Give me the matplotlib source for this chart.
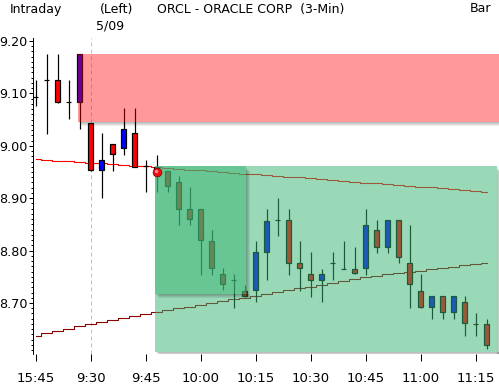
import matplotlib
matplotlib.use("Agg")
import matplotlib.pyplot as plt
from matplotlib.patches import Rectangle
from matplotlib.ticker import MultipleLocator, FormatStrFormatter

# bar index : 0 = 9:30 (5/09), negatives = last bars of the previous session
bars = list(range(-5, 37))
opens = [9.094, 9.126, 9.126, 9.083, 9.084,
         9.043, 8.954, 9.003, 8.995, 9.024, 8.962, 8.960, 8.951, 8.930, 8.879,
         8.879, 8.818, 8.755, 8.744, 8.723, 8.725, 8.798, 8.858, 8.858, 8.776,
         8.755, 8.744, 8.776, 8.764, 8.764, 8.766, 8.839, 8.806, 8.858, 8.776,
         8.722, 8.693, 8.713, 8.682, 8.701, 8.659, 8.659]
highs = [9.126, 9.175, 9.175, 9.126, 9.175,
         9.043, 9.024, 9.003, 9.073, 9.073, 8.973, 8.982, 8.951, 8.942, 8.921,
         8.879, 8.839, 8.766, 8.755, 8.734, 8.818, 8.879, 8.900, 8.879, 8.818,
         8.797, 8.764, 8.797, 8.818, 8.807, 8.879, 8.858, 8.858, 8.858, 8.849,
         8.755, 8.713, 8.713, 8.713, 8.713, 8.681, 8.669]
lows = [9.075, 9.023, 9.082, 9.051, 9.032,
        8.952, 8.900, 8.951, 8.982, 8.960, 8.911, 8.911, 8.911, 8.848, 8.848,
        8.753, 8.753, 8.725, 8.691, 8.712, 8.701, 8.743, 8.827, 8.753, 8.722,
        8.712, 8.701, 8.743, 8.764, 8.755, 8.753, 8.796, 8.796, 8.776, 8.691,
        8.691, 8.670, 8.670, 8.670, 8.638, 8.638, 8.612]
closes = [9.094, 9.126, 9.084, 9.083, 9.175,
          8.954, 8.973, 8.984, 9.033, 8.960, 8.962, 8.944, 8.923, 8.880, 8.860,
          8.820, 8.766, 8.736, 8.744, 8.714, 8.797, 8.857, 8.858, 8.777, 8.766,
          8.744, 8.755, 8.776, 8.764, 8.757, 8.848, 8.806, 8.858, 8.787, 8.736,
          8.693, 8.713, 8.682, 8.713, 8.661, 8.659, 8.619]

# moving averages (read per bar)
ma_fast = [8.9742, 8.9729, 8.9718, 8.9702, 8.9691,
           8.9677, 8.9668, 8.9653, 8.9637, 8.9624, 8.9615, 8.9599, 8.9571, 8.9557, 8.9542,
           8.9532, 8.9519, 8.9500, 8.9487, 8.9471, 8.9456, 8.9437, 8.9424, 8.9412, 8.9397,
           8.9380, 8.9363, 8.9347, 8.9328, 8.9309, 8.9296, 8.9284, 8.9267, 8.9252, 8.9239,
           8.9223, 8.9208, 8.9189, 8.9170, 8.9151, 8.9128, 8.9109]
ma_slow = [8.6370, 8.6422, 8.6466, 8.6510, 8.6552,
           8.6595, 8.6635, 8.6676, 8.6714, 8.6752, 8.6790, 8.6828, 8.6863, 8.6897, 8.6931,
           8.6966, 8.7000, 8.7034, 8.7071, 8.7105, 8.7139, 8.7174, 8.7208, 8.7242, 8.7279,
           8.7313, 8.7347, 8.7382, 8.7416, 8.7452, 8.7487, 8.7521, 8.7546, 8.7571, 8.7595,
           8.7620, 8.7645, 8.7670, 8.7695, 8.7720, 8.7744, 8.7769]

tick_pos = [-5, 0, 5, 10, 15, 20, 25, 30, 35]
tick_lab = ['15:45', '9:30', '9:45', '10:00', '10:15', '10:30', '10:45', '11:00', '11:15']

# zones : (left bar, right bar, bottom price, top price)
red_zone = (-1.15, 37.5, 9.046, 9.175)
green_zone = (5.86, 36.95, 8.607, 8.9614)
green_box = (5.86, 14.14, 8.7166, 8.9614)
entry = (6.07, 8.9506)

W, H = 499, 388
fig = plt.figure(figsize=(W/100., H/100.), dpi=100)
ax = fig.add_axes([33.3/W, (H-354)/H, (W-33.3)/W, (354-38)/H])
ax.set_xlim(-5.2, -5.2 + (W-33.3)/11.)
ax.set_ylim(8.6027, 9.2057)
px_x = 1/11.
px_y = 1/524.
PX = 0.72  # one pixel in points

ax.axvline(0, color='#c0c0c0', ls=(0, (4, 3)), lw=PX, zorder=1)

ax.plot(bars, ma_fast, color='#ff0000', lw=PX*1.1, drawstyle='steps-mid', zorder=2)
ax.plot(bars, ma_slow, color='#8b0000', lw=PX*1.1, drawstyle='steps-mid', zorder=2)

# candles
bw = 0.42
for i, o, h, l, c in zip(bars, opens, highs, lows, closes):
    ax.vlines(i, l, h, color='k', lw=PX*1.2, zorder=3)
    if c == o:
        ax.hlines(o, i-0.25, i+0.25, color='k', lw=PX*1.2, zorder=3)
        continue
    col = '#0000ff' if c > o else '#ff0000'
    ax.add_patch(Rectangle((i-bw/2, min(o, c)), bw, abs(c-o), facecolor=col,
                           edgecolor='k', lw=PX*1.2, zorder=4))


def shadow(z, zo, right=True):
    x0, x1, y0, y1 = z
    for k in range(1, 5):
        a = 0.07
        # bottom strip
        ax.add_patch(Rectangle((x0 + k*px_x, y0 - k*px_y), x1 - x0, k*px_y,
                               facecolor='k', alpha=a, lw=0, zorder=zo))
        if right:
            ax.add_patch(Rectangle((x1, y0 - k*px_y), k*px_x, y1 - y0 - 1*px_y,
                                   facecolor='k', alpha=a, lw=0, zorder=zo))


def zone(z, col, a, zo):
    x0, x1, y0, y1 = z
    ax.add_patch(Rectangle((x0, y0), x1 - x0, y1 - y0, facecolor=col, alpha=a,
                           lw=0, zorder=zo))


shadow(red_zone, 5, right=False)
zone(red_zone, '#ff0000', 0.40, 5)
shadow(green_zone, 5)
zone(green_zone, '#37b573', 0.5, 5)
shadow(green_box, 6)
zone(green_box, '#37b573', 0.5, 6)

# entry point ball
ax.scatter([entry[0]], [entry[1]], s=40, c='#ee1010', edgecolors='#700000',
           linewidths=0.5, zorder=8)
ax.scatter([entry[0] - 0.1], [entry[1] + 0.002], s=6, c='#ff9090', lw=0, zorder=9)

ax.yaxis.set_major_locator(MultipleLocator(0.1))
ax.yaxis.set_minor_locator(MultipleLocator(0.01))
ax.yaxis.set_major_formatter(FormatStrFormatter('%.2f'))
ax.set_xticks(tick_pos)
ax.set_xticklabels(tick_lab)
ax.tick_params(axis='y', which='major', direction='out', length=3, width=PX, pad=1,
               labelsize=9.2)
ax.tick_params(axis='y', which='minor', direction='out', length=1.5, width=PX)
ax.tick_params(axis='x', direction='out', length=5, width=PX, pad=8, labelsize=9.5)
for s in ['top', 'right', 'bottom']:
    ax.spines[s].set_visible(False)
ax.spines['left'].set_linewidth(PX)
ax.spines['left'].set_bounds(8.6027, 9.2057)

# header
fs = 9
fig.text(10/W, 1 - 9/H, 'Intraday', fontsize=fs, va='center', ha='left')
fig.text(100/W, 1 - 9/H, '(Left)', fontsize=fs, va='center', ha='left')
fig.text(96/W, 1 - 26/H, '5/09', fontsize=fs, va='center', ha='left')
fig.text(157/W, 1 - 9/H, 'ORCL - ORACLE CORP  (3-Min)', fontsize=fs, va='center', ha='left')
fig.text(470/W, 1 - 9/H, 'Bar', fontsize=fs, va='center', ha='left')

fig.savefig('out.png', dpi=100)
